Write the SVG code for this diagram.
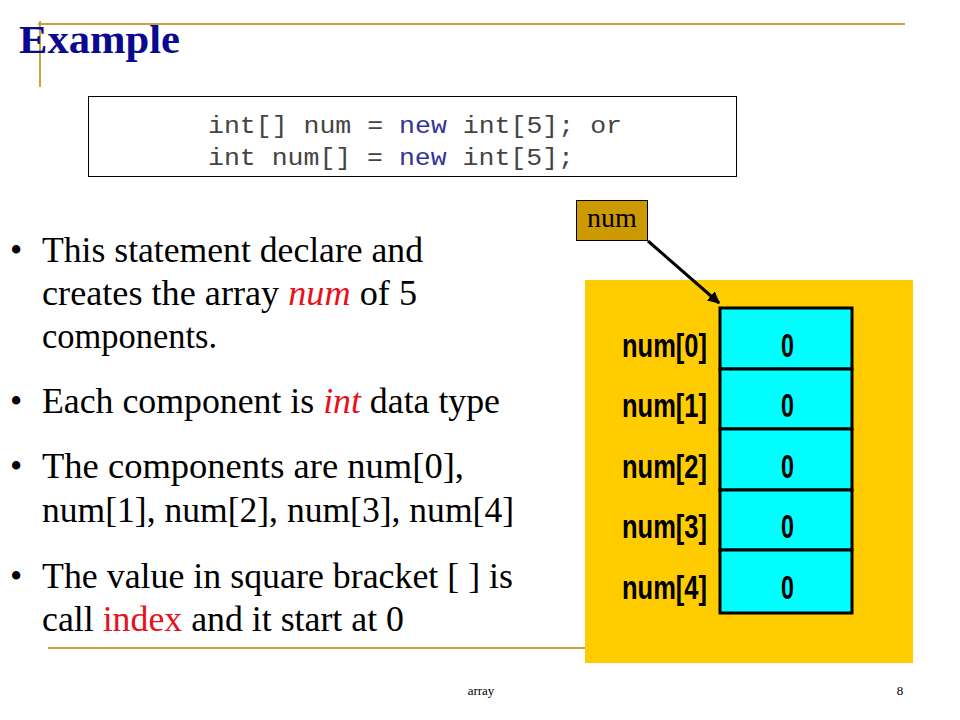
<svg xmlns="http://www.w3.org/2000/svg" width="960" height="720" viewBox="0 0 960 720">
  <defs>
    <style>
      .rule { stroke: #C4A43C; stroke-width: 2; fill: none; }
      .title { font-family: "Liberation Serif", "Times New Roman", serif; font-weight: bold; font-size: 40px; fill: #0A0A90; }
      .code { font-family: "Liberation Mono", "Courier New", monospace; font-size: 23px; fill: #444444; }
      .kw { fill: #333399; }
      .body { font-family: "Liberation Serif", "Times New Roman", serif; font-size: 35px; fill: #000000; }
      .hl { fill: #E8101A; }
      .it { font-style: italic; }
      .cell { fill: #00FFFF; stroke: #000000; stroke-width: 3; }
      .lbl { font-family: "Liberation Sans", Arial, sans-serif; font-weight: bold; font-size: 34px; fill: #000000; }
      .foot { font-family: "Liberation Serif", "Times New Roman", serif; font-size: 13px; fill: #000000; }
    </style>
    <marker id="arrow" viewBox="0 0 10 10" refX="9" refY="5" markerWidth="4" markerHeight="4" orient="auto" markerUnits="strokeWidth">
      <path d="M0,0 L10,5 L0,10 z" fill="#000000"/>
    </marker>
  </defs>
  <rect x="0" y="0" width="960" height="720" fill="#FFFFFF"/>

  <g id="decor">
    <line class="rule" x1="38" y1="24" x2="905" y2="24"/>
    <line class="rule" x1="40" y1="21" x2="40" y2="87"/>
    <line class="rule" x1="48" y1="648" x2="590" y2="648"/>
  </g>

  <g id="title">
    <text class="title" x="19" y="53" textLength="161" lengthAdjust="spacingAndGlyphs">Example</text>
  </g>

  <g id="code-box">
    <rect x="88.5" y="96.5" width="648" height="80" fill="#FFFFFF" stroke="#000000" stroke-width="1"/>
    <text class="code" x="208" y="133" textLength="414" lengthAdjust="spacingAndGlyphs">int[] num = <tspan class="kw">new</tspan> int[5]; or</text>
    <text class="code" x="208" y="165" textLength="366" lengthAdjust="spacingAndGlyphs">int num[] = <tspan class="kw">new</tspan> int[5];</text>
  </g>

  <g id="bullets">
    <text class="body" x="10" y="262">•</text>
    <text class="body" x="42" y="262" textLength="381" lengthAdjust="spacingAndGlyphs">This statement declare and</text>
    <text class="body" x="42" y="305" textLength="375" lengthAdjust="spacingAndGlyphs">creates the array <tspan class="hl it">num</tspan> of 5</text>
    <text class="body" x="42" y="348" textLength="175" lengthAdjust="spacingAndGlyphs">components.</text>
    <text class="body" x="10" y="413">•</text>
    <text class="body" x="42" y="413" textLength="458" lengthAdjust="spacingAndGlyphs">Each component is <tspan class="hl it">int</tspan> data type</text>
    <text class="body" x="10" y="478">•</text>
    <text class="body" x="42" y="478" textLength="422" lengthAdjust="spacingAndGlyphs">The components are num[0],</text>
    <text class="body" x="42" y="522" textLength="472" lengthAdjust="spacingAndGlyphs">num[1], num[2], num[3], num[4]</text>
    <text class="body" x="10" y="588">•</text>
    <text class="body" x="42" y="588" textLength="471" lengthAdjust="spacingAndGlyphs">The value in square bracket [ ] is</text>
    <text class="body" x="42" y="631" textLength="362" lengthAdjust="spacingAndGlyphs">call <tspan class="hl">index</tspan> and it start at 0</text>
  </g>

  <g id="array-panel">
    <rect x="585" y="280" width="328" height="383" fill="#FFCC00"/>
  </g>

  <g id="cell-0">
    <rect class="cell" x="720" y="308" width="132" height="61"/>
    <text class="lbl" x="707" y="357" text-anchor="end" textLength="85" lengthAdjust="spacingAndGlyphs">num[0]</text>
    <text class="lbl" x="781" y="357" textLength="13" lengthAdjust="spacingAndGlyphs">0</text>
  </g>
  <g id="cell-1">
    <rect class="cell" x="720" y="369" width="132" height="60"/>
    <text class="lbl" x="707" y="417" text-anchor="end" textLength="85" lengthAdjust="spacingAndGlyphs">num[1]</text>
    <text class="lbl" x="781" y="417" textLength="13" lengthAdjust="spacingAndGlyphs">0</text>
  </g>
  <g id="cell-2">
    <rect class="cell" x="720" y="429" width="132" height="61"/>
    <text class="lbl" x="707" y="478" text-anchor="end" textLength="85" lengthAdjust="spacingAndGlyphs">num[2]</text>
    <text class="lbl" x="781" y="478" textLength="13" lengthAdjust="spacingAndGlyphs">0</text>
  </g>
  <g id="cell-3">
    <rect class="cell" x="720" y="490" width="132" height="60"/>
    <text class="lbl" x="707" y="538" text-anchor="end" textLength="85" lengthAdjust="spacingAndGlyphs">num[3]</text>
    <text class="lbl" x="781" y="538" textLength="13" lengthAdjust="spacingAndGlyphs">0</text>
  </g>
  <g id="cell-4">
    <rect class="cell" x="720" y="550" width="132" height="63"/>
    <text class="lbl" x="707" y="599" text-anchor="end" textLength="85" lengthAdjust="spacingAndGlyphs">num[4]</text>
    <text class="lbl" x="781" y="599" textLength="13" lengthAdjust="spacingAndGlyphs">0</text>
  </g>

  <g id="num-ref">
    <rect x="576.5" y="200.5" width="71" height="40" fill="#CC9900" stroke="#000000" stroke-width="1"/>
    <text x="612" y="227" text-anchor="middle" font-family="Liberation Serif, Times New Roman, serif" font-size="28" fill="#000000">num</text>
  </g>

  <g id="connectors">
    <line x1="648" y1="241" x2="719" y2="303" stroke="#000000" stroke-width="3" marker-end="url(#arrow)"/>
  </g>

  <g id="footer">
    <text class="foot" x="481" y="695" text-anchor="middle">array</text>
    <text class="foot" x="900" y="695" text-anchor="middle">8</text>
  </g>
</svg>
